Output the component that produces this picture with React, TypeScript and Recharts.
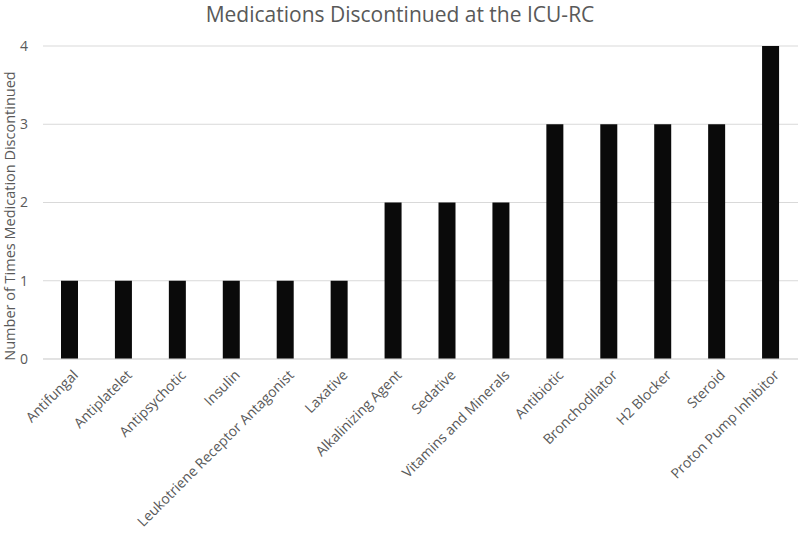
import { Bar, BarChart, CartesianGrid, XAxis, YAxis } from "recharts";

const categories = [
  "Antifungal",
  "Antiplatelet",
  "Antipsychotic",
  "Insulin",
  "Leukotriene Receptor Antagonist",
  "Laxative",
  "Alkalinizing Agent",
  "Sedative",
  "Vitamins and Minerals",
  "Antibiotic",
  "Bronchodilator",
  "H2 Blocker",
  "Steroid",
  "Proton Pump Inhibitor",
];
const counts = [1, 1, 1, 1, 1, 1, 2, 2, 2, 3, 3, 3, 3, 4];
const yTicks = [0, 1, 2, 3, 4];

const data = categories.map((name, i) => ({ name, count: counts[i] }));

const FONT = "'Open Sans', sans-serif";
const textColor = "#595959";

function AngledTick(props: any) {
  const { x, y, payload } = props;
  const ax = x + 9;
  const ay = y + 9;
  return (
    <text
      x={ax}
      y={ay}
      transform={`rotate(-45, ${ax}, ${ay})`}
      textAnchor="end"
      fill={textColor}
      fontSize={14}
      fontFamily={FONT}
    >
      {payload.value}
    </text>
  );
}

export default function App() {
  return (
    <div style={{ position: "relative", width: 800, height: 533, background: "#fff", fontFamily: FONT }}>
      <style>{`body{margin:0}`}</style>
      <div
        style={{
          position: "absolute",
          top: 0,
          left: 0,
          width: 800,
          textAlign: "center",
          fontSize: 21,
          color: textColor,
          lineHeight: "28px",
        }}
      >
        Medications Discontinued at the ICU-RC
      </div>
      <div
        style={{
          position: "absolute",
          left: 10,
          top: 216,
          transform: "translate(-50%, -50%) rotate(-90deg)",
          whiteSpace: "nowrap",
          fontSize: 14.5,
          lineHeight: "18px",
          color: textColor,
        }}
      >
        Number of Times Medication Discontinued
      </div>
      <BarChart
        width={800}
        height={533}
        data={data}
        margin={{ top: 46, right: 2, bottom: 4, left: 0 }}
        barCategoryGap={0}
      >
        <CartesianGrid vertical={false} stroke="#d9d9d9" />
        <XAxis
          dataKey="name"
          interval={0}
          height={170}
          tickLine={false}
          axisLine={{ stroke: "#d9d9d9" }}
          tick={<AngledTick />}
        />
        <YAxis
          width={43}
          domain={[0, 4]}
          ticks={yTicks}
          axisLine={false}
          tickLine={false}
          tickSize={0}
          tickMargin={15}
          tick={{ fill: textColor, fontSize: 14, fontFamily: FONT }}
        />
        <Bar dataKey="count" fill="#0a0a0a" barSize={17} isAnimationActive={false} />
      </BarChart>
    </div>
  );
}
